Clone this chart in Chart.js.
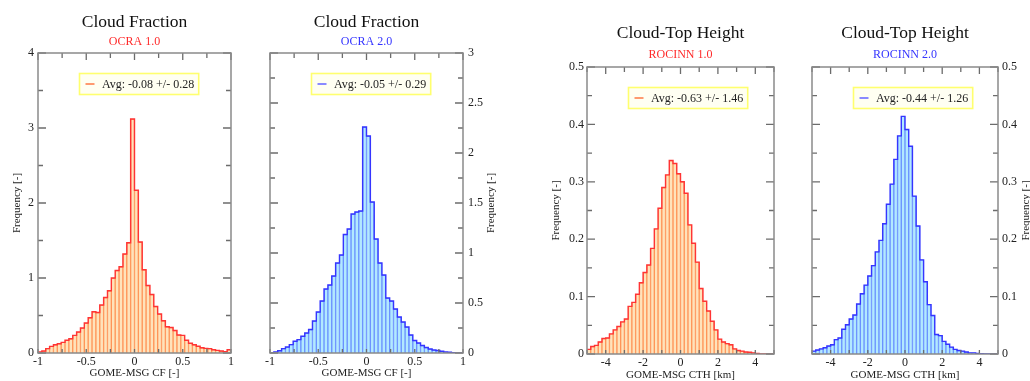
<!DOCTYPE html>
<html>
<head>
<meta charset="utf-8">
<script src="https://cdn.jsdelivr.net/npm/chart.js@4.4.1/dist/chart.umd.min.js"></script>
<style>
  body { margin: 0; background: #fff; }
  canvas { position: absolute; top: 0; }
</style>
</head>
<body>
<canvas id="cfOld" width="245" height="381" style="left:0px"></canvas>
<canvas id="cfNew" width="255" height="381" style="left:245px"></canvas>
<canvas id="cthOld" width="285" height="381" style="left:500px"></canvas>
<canvas id="cthNew" width="245" height="381" style="left:785px"></canvas>
<script>
// cloud fraction differences, 50 bins of 0.04 from -1 to 1
let cfStart = -1;
let cfWidth = 0.04;
let cfOcra1 = [0.013, 0.027, 0.058, 0.089, 0.11, 0.124, 0.142, 0.17, 0.19, 0.235,
  0.28, 0.333, 0.40, 0.47, 0.55, 0.54, 0.64, 0.74, 0.83, 1.00,
  1.10, 1.15, 1.32, 1.47, 3.12, 2.17, 1.48, 1.11, 0.90, 0.78,
  0.62, 0.52, 0.43, 0.35, 0.34, 0.30, 0.24, 0.235, 0.17, 0.13,
  0.11, 0.09, 0.07, 0.062, 0.058, 0.044, 0.035, 0.027, 0.018, 0.044];
let cfOcra2 = [0.003, 0.01, 0.023, 0.044, 0.06, 0.084, 0.118, 0.134, 0.168, 0.2,
  0.235, 0.32, 0.41, 0.52, 0.64, 0.68, 0.77, 0.9, 0.98, 1.185,
  1.24, 1.39, 1.41, 1.42, 2.26, 2.17, 1.51, 1.14, 0.9, 0.78,
  0.55, 0.52, 0.44, 0.36, 0.31, 0.26, 0.18, 0.125, 0.1, 0.075,
  0.055, 0.04, 0.03, 0.025, 0.017, 0.01, 0.007, 0.003, 0, 0];

// cloud-top height differences, 50 bins of 0.2 km from -5 to 5
let cthStart = -5;
let cthWidth = 0.2;
let cthRocinn1 = [0.008, 0.013, 0.015, 0.021, 0.027, 0.028, 0.035, 0.042, 0.048, 0.056,
  0.061, 0.083, 0.09, 0.104, 0.124, 0.142, 0.155, 0.184, 0.218, 0.254,
  0.29, 0.312, 0.337, 0.332, 0.314, 0.30, 0.28, 0.225, 0.193, 0.16,
  0.114, 0.092, 0.075, 0.057, 0.042, 0.026, 0.021, 0.018, 0.016, 0.009,
  0.006, 0.005, 0.0035, 0.003, 0.002, 0.001, 0, 0, 0, 0];
let cthRocinn2 = [0.005, 0.007, 0.009, 0.011, 0.014, 0.016, 0.025, 0.028, 0.043, 0.051,
  0.061, 0.068, 0.087, 0.105, 0.12, 0.136, 0.154, 0.178, 0.198, 0.227,
  0.261, 0.296, 0.339, 0.38, 0.414, 0.391, 0.362, 0.275, 0.223, 0.164,
  0.126, 0.086, 0.067, 0.034, 0.032, 0.022, 0.017, 0.012, 0.008, 0.006,
  0.005, 0.0035, 0.002, 0.002, 0.001, 0.0005, 0.0003, 0, 0, 0];

let cfTicks = [-1, -0.5, 0, 0.5, 1];
let cthTicks = [-4, -2, 0, 2, 4];
let cfFreqTicks1 = [0, 1, 2, 3, 4];
let cfFreqTicks2 = [0, 0.5, 1, 1.5, 2, 2.5, 3];
let cthFreqTicks = [0, 0.1, 0.2, 0.3, 0.4, 0.5];

let serif = 'Liberation Serif, Times New Roman, serif';
let orange = { fill: '#ffe3bb', edge: '#ff9558', outline: '#ff3434', key: '#ff9a70', sub: '#ff2a2a' };
let blue = { fill: '#b2e9ff', edge: '#6a92ff', outline: '#3535ff', key: '#8a8aff', sub: '#3434ff' };

function eachStep(min, max, step, fn) {
  for (let i = 0; ; i++) {
    let v = min + i * step;
    if (v > max + 1e-9) break;
    fn(v);
  }
}
function isMajor(v, major) {
  let r = v / major;
  return Math.abs(r - Math.round(r)) < 1e-6;
}

// frame, inward ticks, titles and the in-plot legend box
const decor = {
  id: 'decor',
  afterDatasetsDraw(chart, args, o) {
    const ctx = chart.ctx, a = chart.chartArea;
    const xs = chart.scales.x, ys = chart.scales.y;
    ctx.save();
    ctx.strokeStyle = '#6c6c6c';
    ctx.lineWidth = 1.3;
    ctx.beginPath();
    eachStep(xs.min, xs.max, o.xMinor, v => {
      let px = xs.getPixelForValue(v);
      let len = isMajor(v, o.xMajor) ? 7 : 5;
      ctx.moveTo(px, a.top); ctx.lineTo(px, a.top + len);
      ctx.moveTo(px, a.bottom); ctx.lineTo(px, a.bottom - 4);
    });
    eachStep(ys.min, ys.max, o.yMinor, v => {
      let py = ys.getPixelForValue(v);
      let len = isMajor(v, o.yMajor) ? 8 : 5;
      ctx.moveTo(a.left, py); ctx.lineTo(a.left + len, py);
      ctx.moveTo(a.right, py); ctx.lineTo(a.right - len, py);
    });
    ctx.stroke();

    ctx.strokeStyle = '#8a8a8a';
    ctx.lineWidth = 1.5;
    ctx.strokeRect(a.left, a.top, a.right - a.left, a.bottom - a.top);

    // titles
    let cx = (a.left + a.right) / 2;
    ctx.textAlign = 'center';
    ctx.textBaseline = 'middle';
    ctx.fillStyle = '#111';
    ctx.font = '17.5px ' + serif;
    ctx.fillText(o.title, cx, o.titleY);
    ctx.fillStyle = o.subColor;
    ctx.font = '12px ' + serif;
    ctx.fillText(o.subtitle, cx, o.subY);

    // frequency axis title
    ctx.save();
    ctx.translate(o.yTitleX, (a.top + a.bottom) / 2);
    ctx.rotate(-Math.PI / 2);
    ctx.fillStyle = '#222';
    ctx.font = '11px ' + serif;
    ctx.fillText('Frequency [-]', 0, 0);
    ctx.restore();

    // legend
    ctx.font = '12px ' + serif;
    let tw = ctx.measureText(o.legend).width;
    let bx = a.left + 41.5, by = a.top + 20.5, bw = tw + 27, bh = 21;
    ctx.fillStyle = '#fffff2';
    ctx.fillRect(bx, by, bw, bh);
    ctx.strokeStyle = '#ffff6e';
    ctx.lineWidth = 1.6;
    ctx.strokeRect(bx, by, bw, bh);
    ctx.strokeStyle = o.keyColor;
    ctx.lineWidth = 2;
    ctx.beginPath();
    ctx.moveTo(bx + 6, by + bh / 2); ctx.lineTo(bx + 15, by + bh / 2);
    ctx.stroke();
    ctx.fillStyle = '#222';
    ctx.textAlign = 'left';
    ctx.fillText(o.legend, bx + 22.5, by + bh / 2 + 0.5);
    ctx.restore();
  }
};

function histogram(id, h) {
  let n = h.values.length;
  let bars = h.values.map((v, k) => ({ x: h.start + (k + 0.5) * h.width, y: v }));
  let steps = h.values.map((v, k) => ({ x: h.start + k * h.width, y: v }));
  steps.push({ x: h.start + n * h.width, y: h.values[n - 1] });
  let tickFont = { family: serif, size: 12 };

  return new Chart(document.getElementById(id), {
    type: 'bar',
    data: {
      datasets: [
        { type: 'line', data: steps, stepped: 'before', borderColor: h.color.outline,
          borderWidth: 1.4, pointRadius: 0, fill: false, order: 0 },
        { data: bars, backgroundColor: h.color.fill, borderColor: h.color.edge,
          borderWidth: 1, borderSkipped: 'bottom', barPercentage: 1, categoryPercentage: 1, order: 1 }
      ]
    },
    options: {
      responsive: false,
      animation: false,
      layout: { padding: h.pad },
      plugins: {
        legend: { display: false },
        tooltip: { enabled: false },
        decor: {
          title: h.title, subtitle: h.subtitle, subColor: h.color.sub, keyColor: h.color.key,
          titleY: h.titleY, subY: h.subY, yTitleX: h.yTitleX, legend: h.legend,
          xMinor: h.xMinor, xMajor: h.xMajor, yMinor: h.yMinor, yMajor: h.yMajor
        }
      },
      scales: {
        x: {
          type: 'linear', min: h.xMin, max: h.xMax, offset: false,
          grid: { display: false, drawTicks: false }, border: { display: false },
          ticks: { padding: 2, maxRotation: 0, autoSkip: false, color: '#222', font: tickFont,
                   callback: v => String(v) },
          afterBuildTicks: s => { s.ticks = h.xTicks.map(v => ({ value: v })); },
          afterFit: s => { s.height = h.xHeight; },
          title: { display: true, text: h.xTitle, color: '#222',
                   font: { family: serif, size: 11, lineHeight: 1 },
                   padding: { top: 0, bottom: h.xTitlePad } }
        },
        y: {
          position: h.yPos, min: 0, max: h.yMax,
          grid: { display: false, drawTicks: false }, border: { display: false },
          ticks: { padding: h.yPad, color: '#222', font: tickFont, callback: v => String(v) },
          afterBuildTicks: s => { s.ticks = h.yTicks.map(v => ({ value: v })); },
          afterFit: s => { s.width = h.yWidth; }
        }
      }
    },
    plugins: [decor]
  });
}

histogram('cfOld', {
  values: cfOcra1, start: cfStart, width: cfWidth, color: orange,
  title: 'Cloud Fraction', subtitle: 'OCRA 1.0', legend: 'Avg: -0.08 +/- 0.28',
  xMin: -1, xMax: 1, xTicks: cfTicks, xMinor: 0.25, xMajor: 0.5, xTitle: 'GOME-MSG CF [-]',
  yMax: 4, yTicks: cfFreqTicks1, yMinor: 0.5, yMajor: 1, yPos: 'left', yPad: 4,
  pad: { left: 0, right: 14, top: 53, bottom: 0 }, yWidth: 38, xHeight: 28, xTitlePad: 2,
  titleY: 22.5, subY: 42, yTitleX: 17
});

histogram('cfNew', {
  values: cfOcra2, start: cfStart, width: cfWidth, color: blue,
  title: 'Cloud Fraction', subtitle: 'OCRA 2.0', legend: 'Avg: -0.05 +/- 0.29',
  xMin: -1, xMax: 1, xTicks: cfTicks, xMinor: 0.25, xMajor: 0.5, xTitle: 'GOME-MSG CF [-]',
  yMax: 3, yTicks: cfFreqTicks2, yMinor: 0.25, yMajor: 0.5, yPos: 'right', yPad: 5,
  pad: { left: 25, right: 0, top: 53, bottom: 0 }, yWidth: 37, xHeight: 28, xTitlePad: 2,
  titleY: 22.5, subY: 42, yTitleX: 246.5
});

histogram('cthOld', {
  values: cthRocinn1, start: cthStart, width: cthWidth, color: orange,
  title: 'Cloud-Top Height', subtitle: 'ROCINN 1.0', legend: 'Avg: -0.63 +/- 1.46',
  xMin: -5, xMax: 5, xTicks: cthTicks, xMinor: 1, xMajor: 2, xTitle: 'GOME-MSG CTH [km]',
  yMax: 0.5, yTicks: cthFreqTicks, yMinor: 0.05, yMajor: 0.1, yPos: 'left', yPad: 3,
  pad: { left: 50, right: 11, top: 67, bottom: 0 }, yWidth: 37, xHeight: 27, xTitlePad: 0,
  titleY: 33, subY: 55, yTitleX: 56
});

histogram('cthNew', {
  values: cthRocinn2, start: cthStart, width: cthWidth, color: blue,
  title: 'Cloud-Top Height', subtitle: 'ROCINN 2.0', legend: 'Avg: -0.44 +/- 1.26',
  xMin: -5, xMax: 5, xTicks: cthTicks, xMinor: 1, xMajor: 2, xTitle: 'GOME-MSG CTH [km]',
  yMax: 0.5, yTicks: cthFreqTicks, yMinor: 0.05, yMajor: 0.1, yPos: 'right', yPad: 4,
  pad: { left: 27, right: 0, top: 67, bottom: 0 }, yWidth: 32, xHeight: 27, xTitlePad: 0,
  titleY: 33, subY: 55, yTitleX: 241.5
});
</script>
</body>
</html>
